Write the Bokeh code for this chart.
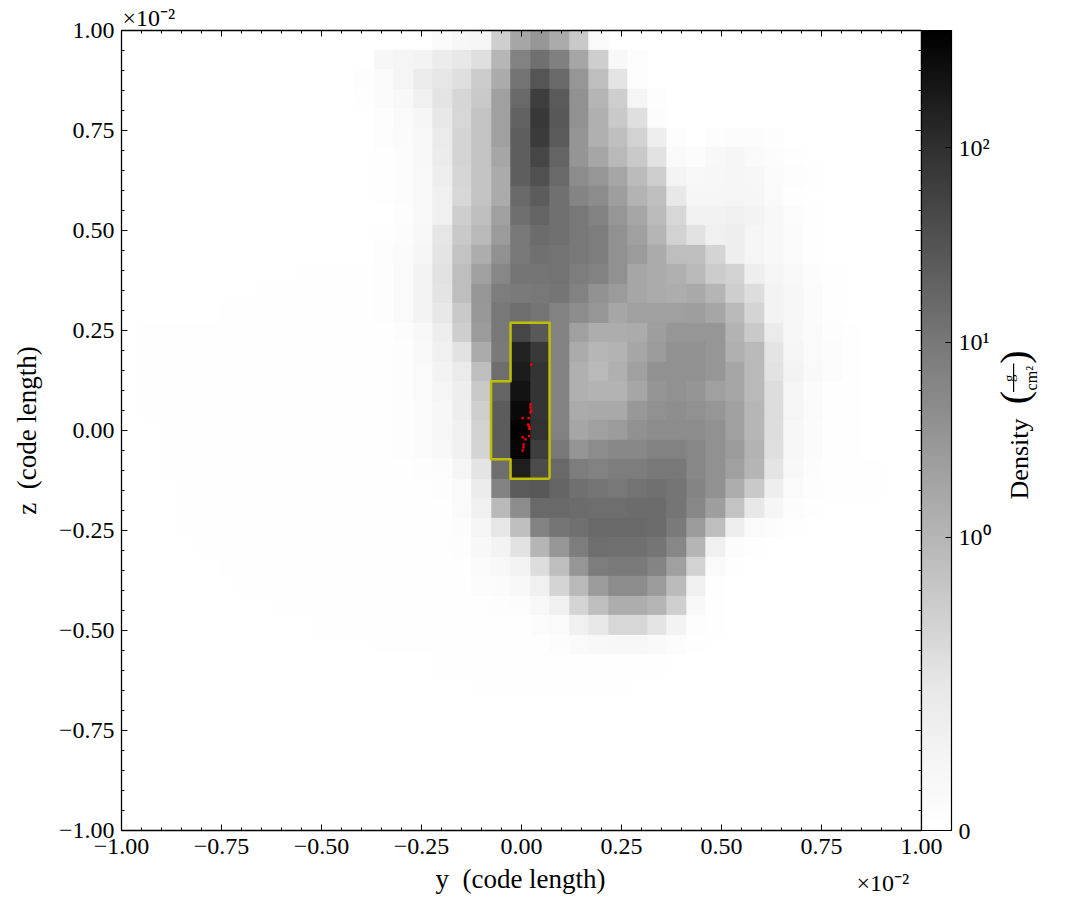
import numpy as np
from bokeh.embed import file_html
from bokeh.resources import INLINE
from bokeh.plotting import figure
from bokeh.layouts import row, column
from bokeh.core.properties import value
from bokeh.models import (LinearColorMapper, ColorBar, FixedTicker, LinearAxis, Title)

N = 41
rho_00 = [0]*16 + [.03,.046,.058,.29,.86,1.5,.72,.32,.03]
rho_01 = [0]*13 + [.046,.058,.07,.11,.134,.19,.48,3.2,6.2,3.5,.86,.29,.04,.012]
rho_02 = [0]*12 + [.012,.03,.058,.116,.145,.19,.3,.72,5.6,17,8.2,1.5,.38,.157,.012]
rho_03 = [0]*12 + [.006,.023,.04,.087,.157,.24,.32,1.05,8.2,40,14,1.8,.5,.29,.058,.012]
rho_04 = [0]*13 + [.012,.03,.052,.134,.23,.35,1.05,10.5,49,15,1.8,.6,.32,.19,.017]
rho_05 = [0]*13 + [.012,.023,.04,.116,.25,.35,1.05,12,43,14,1.6,.6,.37,.26,.1,.012,0,.012,.017,.017,.012]
rho_06 = [0]*13 + [.006,.017,.04,.11,.25,.35,.86,12,30,9.8,1.6,.86,.42,.32,.174,.03,.017,.04,.052,.03,.017,.006]
rho_07 = [0]*13 + [.006,.017,.035,.1,.24,.35,.72,12,20,8.2,2.2,1.5,.86,.395,.29,.064,.04,.046,.052,.046,.023,.012,.006]
rho_08 = [0]*13 + [.006,.017,.035,.087,.23,.35,.72,8.2,13,6.2,3,2.2,1.12,.54,.37,.134,.052,.052,.058,.052,.03,.006]
rho_09 = [0]*14 + [.012,.035,.087,.29,.38,1.05,6.7,9.8,6.2,4.6,3.2,1.5,.86,.395,.23,.075,.075,.087,.07,.04,.017,.006]
rho_10 = [0]*13 + [.006,.017,.04,.145,.32,.42,1.25,4.6,7.3,6.2,4.6,3.9,1.8,1.05,.5,.26,.174,.087,.1,.058,.04,.023,.006]
rho_11 = [0]*13 + [.012,.023,.052,.157,.35,.67,1.8,4.6,6.2,5.6,4.6,3.9,1.8,1.25,.72,.38,.38,.25,.1,.058,.04,.023,.006]
rho_12 = [0]*9 + [.006,.006,.006,.006,.012,.03,.07,.174,.38,1.05,2.7,5,5,5.6,3.9,3.2,1.8,.86,.72,.6,.42,.3,.26,.1,.058,.035,.017,.006]
rho_13 = [0]*7 + [.006]*6 + [.012,.03,.07,.157,.38,1.5,3.9,4.3,4.6,5,3.2,1.8,1.25,.86,.72,.67,.77,.5,.29,.2,.07,.046,.023,.006]
rho_14 = [0]*5 + [.006]*8 + [.012,.03,.07,.134,.32,1.4,4.6,6.7,5,3.2,2.2,1.5,.86,1.05,1.05,1.05,1.12,.86,.42,.25,.07,.046,.023,.006]
rho_15 = [0] + [.006]*13 + [.02,.04,.1,.29,1.25,4.6,30,15,3.2,1.05,.67,.67,.72,1.12,1.5,1.5,1.5,.54,.32,.116,.046,.03,.012,.006]
rho_16 = [0] + [.006]*13 + [.015,.035,.087,.174,.72,4.3,115,47,3.2,.72,.47,.54,.86,1.25,1.8,1.8,1.5,.6,.42,.157,.058,.03,.017,.006]
rho_17 = [0] + [.006]*13 + [.015,.03,.07,.116,.38,6.7,140,57,3.2,.6,.42,.6,1.05,1.8,1.8,1.8,1.5,.86,.42,.174,.07,.035,.017,.006]
rho_18 = [0] + [.006]*13 + [.012,.03,.058,.1,.32,9.8,190,57,3.2,.6,.54,.54,.86,1.6,1.8,1.6,1.05,.86,.42,.2,.058,.023,.006,.006]
rho_19 = [0] + [.006]*13 + [.012,.023,.046,.1,.28,13,275,57,3.2,.72,.77,.77,1.4,1.8,2,1.8,1.5,1.05,.47,.21,.058,.03,.006,.006]
rho_20 = [0]*2 + [.006]*12 + [.012,.023,.046,.087,.26,13,370,62,3.2,.86,1.05,1.25,1.8,2.2,2.2,2.2,1.8,1.05,.47,.2,.046,.023,.006,.006]
rho_21 = [0]*2 + [.006]*12 + [.012,.023,.04,.087,.25,13,330,40,4.6,1.6,2.2,2.7,2.7,3.2,3.2,2.7,1.8,1.25,.54,.19,.046,.023,.006,.006]
rho_22 = [0]*2 + [.006]*12 + [.006,.012,.017,.058,.16,6.7,130,24,8.2,3.9,3.2,3.9,3.9,4.6,4.6,2.7,1.8,1.05,.5,.157,.04,.017,.006,.006,.006]
rho_23 = [0]*3 + [.006]*11 + [.006,.006,.012,.03,.116,3.2,14,15,9.8,6.2,5,4.6,5.6,6.2,5,3,1.8,.67,.32,.1,.03,.012,.006,.006,.006]
rho_24 = [0]*3 + [.006]*11 + [.006,.006,.006,.03,.087,.42,2.2,8.2,8.2,7.3,6.7,6.7,7.3,7.3,5,2.7,1.12,.35,.134,.052,.017,.006]
rho_25 = [0]*3 + [.006]*13 + [.006,.017,.058,.145,.38,3.2,5,6.2,8.2,8.2,8.2,7.3,4.3,1.25,.38,.1,.03,.017,.006]
rho_26 = [0]*4 + [.006]*12 + [.006,.012,.04,.07,.174,.5,1.5,3.9,6.7,6.2,6.2,5,2.7,.5,.087,.017,.006]
rho_27 = [0]*5 + [.006]*12 + [.006,.03,.04,.07,.2,.38,1.5,3.9,4.3,4.3,3,1.05,.26,.03,.006]
rho_28 = [0]*6 + [.006]*11 + [.006,.017,.023,.04,.087,.25,.42,1.25,2.2,2.2,1.25,.395,.087,.006]
rho_29 = [0]*8 + [.006]*10 + [.006,.012,.017,.04,.087,.25,.38,.67,.67,.5,.28,.04,.006]
rho_30 = [0]*10 + [.006]*9 + [.006,.006,.017,.03,.087,.134,.23,.23,.157,.07,.012,.006]
rho_31 = [0]*13 + [.006]*7 + [.006,.006,.017,.03,.04,.046,.046,.035,.017,.006]
rho_32 = [0]*16 + [.006]*6 + [.006,.006,.006,.006,.006,.006]
rho_33 = [0]*18 + [.006]*8
rho_34 = [0]*41
rho_35 = [0]*41
rho_36 = [0]*41
rho_37 = [0]*41
rho_38 = [0]*41
rho_39 = [0]*41
rho_40 = [0]*41
rows = [rho_00,rho_01,rho_02,rho_03,rho_04,rho_05,rho_06,rho_07,rho_08,rho_09,rho_10,
        rho_11,rho_12,rho_13,rho_14,rho_15,rho_16,rho_17,rho_18,rho_19,rho_20,
        rho_21,rho_22,rho_23,rho_24,rho_25,rho_26,rho_27,rho_28,rho_29,rho_30,
        rho_31,rho_32,rho_33,rho_34,rho_35,rho_36,rho_37,rho_38,rho_39,rho_40]

clump_rows = [15,16,17,18,19,20,21,22]
clump_first_col = [20,20,20,19,19,19,19,20]
clump_last_col = 21

particle_y = [.0243,.0225,.0225,.024,.0225,.003,.018,.017,.018,.02,.02,.003,.019,.01,.005,.005,.003]
particle_z = [.165,.065,.0575,.05,.045,.031,.031,.015,.0125,.0075,.004,-.017,-.014,-.022,-.035,-.042,-.05]

tick_values = [-1.0,-.75,-.5,-.25,0.0,.25,.5,.75,1.0]
tick_labels = ["\u22121.00","\u22120.75","\u22120.50","\u22120.25","0.00","0.25","0.50","0.75","1.00"]
minor_values = [round(-1+.05*i,2) for i in range(41)]
cbar_density = [0, 1, 10, 100]
cbar_labels = ["0","10\u2070","10\u00b9","10\u00b2"]
offset_text = "\u00d710\u207b\u00b2"

# colour ramp of the reference's colour bar, read at a few heights
ramp_pos = [0, .1, .177, .367, .611, .854, 1]
ramp_shade = [255, 243, 232, 181, 120, 48, 0]

vmax = 400.0; linthresh = 0.4; lin_frac = 0.27; dec_frac = (1-lin_frac)/np.log10(vmax/linthresh)
def symlog_pos(d):
    d = np.asarray(d, dtype=float)
    return np.where(d < linthresh, lin_frac*d/linthresh, lin_frac+dec_frac*np.log10(np.maximum(d,linthresh)/linthresh))

grid = np.array([(r+[0]*N)[:N] for r in rows], dtype=float)
# the values above were read against a straight ramp; refer them to the bar's ramp
read_shade = 255*(1-symlog_pos(grid))
pos = np.interp(read_shade, ramp_shade[::-1], ramp_pos[::-1])[::-1]

FONT = "Liberation Serif"
palette = []
for v in np.interp(np.linspace(0,1,256), ramp_pos, ramp_shade):
    g = int(round(float(v))); palette.append("#%02x%02x%02x" % (g,g,g))
mapper = LinearColorMapper(palette=palette, low=0, high=1)

MAIN_W = 993; MAIN_H = 865; TOTAL_W = 1078; TOTAL_H = 900

p = figure(frame_width=800, frame_height=800, x_range=(-1,1), y_range=(-1,1),
           output_backend="svg", toolbar_location=None,
           min_border_left=121, min_border_top=30, min_border_bottom=MAIN_H-830, min_border_right=MAIN_W-921)
p.grid.visible = False
p.outline_line_color = "black"

p.image(image=[pos], x=-1.003, y=-0.9985, dw=2, dh=2, color_mapper=mapper)

dx = 2/N
x0 = -1.003; ytop = 1.00125
def xe(c): return x0 + c*dx
def ye(r): return ytop - r*dx
ox=[]; oy=[]
for r,c in zip(clump_rows, clump_first_col):
    ox += [xe(c), xe(c)]; oy += [ye(r), ye(r+1)]
oxx = ox[::-1]; oyy = oy[::-1]
oxx = [xe(clump_last_col+1)] + [xe(clump_last_col+1)] + oxx + [xe(clump_last_col+1)]
oyy = [ye(clump_rows[-1]+1)] + [ye(clump_rows[-1]+1)] + oyy + [ye(clump_rows[0])]
oxx += [xe(clump_last_col+1)]; oyy += [ye(clump_rows[-1]+1)]
p.line(oxx, oyy, line_color="#bfbf00", line_width=2.5, line_join="round")
p.scatter(particle_y, particle_z, marker="square", size=2.4, color="red", line_color=None)

ticker = FixedTicker(ticks=tick_values, minor_ticks=minor_values)
overrides = dict(zip(tick_values, tick_labels))
def style(ax, labelled):
    ax.ticker = ticker
    ax.axis_line_color = "black"; ax.axis_line_width = 1.3
    ax.major_tick_in = 6; ax.major_tick_out = 0
    ax.minor_tick_in = 3; ax.minor_tick_out = 0
    ax.major_tick_line_width = 1; ax.minor_tick_line_width = 1
    if labelled:
        ax.major_label_overrides = overrides
        ax.major_label_text_font = FONT
        ax.major_label_text_font_size = "24px"
        ax.major_label_text_color = "black"
        ax.axis_label_text_font = FONT
        ax.axis_label_text_font_size = "27px"
        ax.axis_label_text_font_style = "normal"
        ax.axis_label_text_color = "black"
    else:
        ax.major_label_overrides = {v: "" for v in tick_values}
        ax.major_label_standoff = 0

style(p.xaxis[0], True); style(p.yaxis[0], True)
p.yaxis[0].axis_label = "z\u2002(code length)"
p.xaxis[0].major_label_standoff = 8
p.yaxis[0].major_label_standoff = 7
p.yaxis[0].axis_label_standoff = 14

top = LinearAxis(); style(top, False); p.add_layout(top, "above")
right = LinearAxis(); style(right, False); p.add_layout(right, "right")

p.add_layout(Title(text=offset_text, align="left", offset=1, standoff=0,
                   text_font=FONT, text_font_size="24px", text_font_style="normal", text_color="black"), "above")

cb = ColorBar(color_mapper=mapper, width=30, padding=0, margin=0,
              ticker=FixedTicker(ticks=[float(symlog_pos(d)) for d in cbar_density]),
              major_label_overrides={float(symlog_pos(d)):l for d,l in zip(cbar_density,cbar_labels)},
              major_label_text_font=FONT, major_label_text_font_size="24px", major_label_text_color="black",
              major_tick_in=6, major_tick_out=0, major_tick_line_color="black", major_tick_line_width=1,
              minor_tick_line_color=None, bar_line_color="black", bar_line_width=1.2,
              label_standoff=7, border_line_color=None)
p.add_layout(cb, "right")

def blank(width, height, xr, yr):
    f = figure(width=width, height=height, x_range=xr, y_range=yr, output_backend="svg",
               toolbar_location=None, x_axis_location=None, y_axis_location=None, min_border=0)
    f.grid.visible = False
    f.outline_line_color = None
    return f
def put(f, text, x, y, size, angle=0, align="left", base="alphabetic"):
    f.text([x], [y], text=[text], angle=angle, angle_units="deg", text_font=value(FONT),
           text_font_size=f"{size}px", text_color="black", text_align=align, text_baseline=base)

side = blank(TOTAL_W-MAIN_W, MAIN_H, (MAIN_W, TOTAL_W), (MAIN_H, 0))
put(side, "Density", 1019, 507, 26, angle=90)
put(side, "(", 1014, 397, 40, angle=90, align="center", base="middle")
put(side, ")", 1014, 353, 40, angle=90, align="center", base="middle")
put(side, "g", 1008, 376, 15, angle=90, align="center")
put(side, "cm\u00b2", 1031, 376, 16, angle=90, align="center")
side.line([1013.1, 1013.1], [360, 391], line_color="black", line_width=1.2)

strip = blank(TOTAL_W, TOTAL_H-MAIN_H, (0, TOTAL_W), (TOTAL_H, MAIN_H))
put(strip, "y\u2002(code length)", 520, 878, 27, align="center", base="middle")
put(strip, offset_text, 856, 882, 24)

layout = column(row(p, side, spacing=0), strip, spacing=0)
open("out.html","w").write(file_html(layout, INLINE))
